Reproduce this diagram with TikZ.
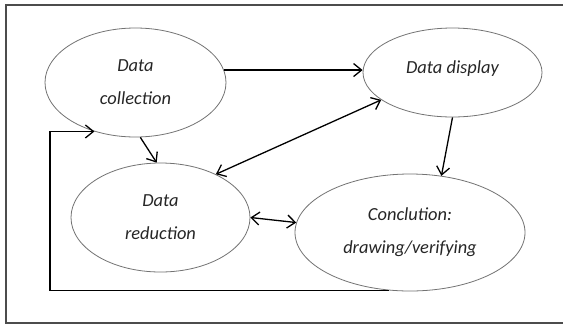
\documentclass[tikz,border=0pt]{standalone}
\usepackage{fontspec}
\setmainfont{Carlito}
\usetikzlibrary{shapes.geometric,arrows.meta}

\begin{document}
\begin{tikzpicture}[
    x=1bp, y=-1bp,
    stage/.style={ellipse, draw=black!55, line width=0.8bp, inner sep=0pt,
      align=center, text=black!85, font=\fontsize{18.5}{33}\selectfont\itshape},
    flow/.style={line width=1.3bp, -{Straight Barb[length=8bp,width=13bp]}},
    both/.style={line width=1.3bp, {Straight Barb[length=8bp,width=13bp]}-{Straight Barb[length=8bp,width=13bp]}}
  ]
  \useasboundingbox[fill=white] (0,0) rectangle (563,324);
  \draw[black!70, line width=1.2bp] (563,5) -- (6,5) -- (6,323) -- (563,323);

  \node[stage, minimum width=181bp, minimum height=109bp] (collect) at (135.5,82.5) {Data\\ collection};
  \node[stage, minimum width=179bp, minimum height=89bp] (display) at (452.5,72.5) {\raisebox{11bp}{Data display}};
  \node[stage, minimum width=179bp, minimum height=109bp] (reduce) at (160.5,217.5) {Data\\ reduction};
  \node[stage, minimum width=230bp, minimum height=117bp] (concl) at (410,232.5) {Conclution:\\ drawing/verifying};
  \coordinate (loopleft) at (50,0);

  \draw[flow] (collect.8) -- (collect.8 -| display.west);
  \draw[flow] (collect.275) -- (reduce.94);
  \draw[both] (reduce.38) -- (display.201);
  \draw[flow] (display.270) -- (concl.61);
  \draw[both] (reduce.east) -- (concl.175);
  \draw[flow] (concl.250) -- (concl.250 -| loopleft) |- (collect.230);
\end{tikzpicture}
\end{document}
